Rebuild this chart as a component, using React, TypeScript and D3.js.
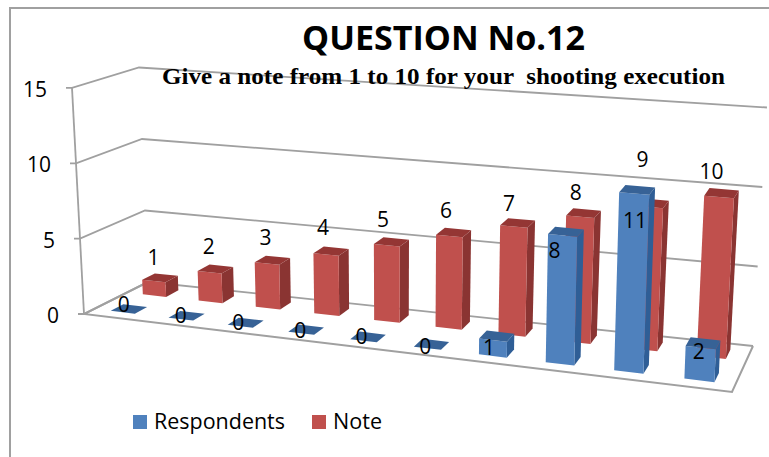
import React from "react";
import * as d3 from "d3";

const categories = ["1", "2", "3", "4", "5", "6", "7", "8", "9", "10"];
const respondents = [0, 0, 0, 0, 0, 0, 1, 8, 11, 2];
const note = [1, 2, 3, 4, 5, 6, 7, 8, 9, 10];
const valueTicks = [0, 5, 10, 15];

const W = 769, H = 457;
const SANS = "'Open Sans', 'Noto Sans', sans-serif";
const BLUE = { front: "#4F81BD", side: "#2F5E96", top: "#376296" };
const RED = { front: "#C0504D", side: "#8A3432", top: "#943634" };
const GRID = "#A0A0A0";

const lerp = (a: number, b: number, t: number) => d3.interpolateNumber(a, b)(t);
const bi = (fl: number, fr: number, bl: number, br: number, u: number, d: number) =>
  lerp(lerp(fl, fr, u), lerp(bl, br, u), d);

// simple 3D projection of the chart box: u along categories, d into depth, v value
const uScale = d3.scaleBand<string>().domain(categories).range([0, 1]);
const persp = 1.13;
const warp = (u: number) => u / (u + persp * (1 - u));
const project = (uRaw: number, d: number, v: number): [number, number] => {
  const u = warp(uRaw);
  const x0 = bi(84, 732, 148, 753, u, d);
  const y0 = bi(314, 392, 282, 346, u, d);
  const unit = bi(15.07, 16.6, 14.3, 15.9, u, d);
  const lean = bi(-0.8, 0.7, -0.6, 0.93, u, d);
  return [x0 + lean * v, y0 - unit * v];
};
const line = d3.line<[number, number]>();
const poly = (pts: [number, number][]) => line(pts) + "Z";

const halfW = 0.021;
const depthHalf = 0.1;

function Bar({ cat, v, dc, c }: { cat: string; v: number; dc: number; c: typeof RED }) {
  const uc = (uScale(cat) as number) + uScale.bandwidth() / 2;
  const [u0, u1] = [uc - halfW, uc + halfW];
  const [d0, d1] = [dc - depthHalf, dc + depthHalf];
  return (
    <g>
      {v > 0 && <path d={poly([project(u1, d0, 0), project(u1, d1, 0), project(u1, d1, v), project(u1, d0, v)])} fill={c.side} />}
      {v > 0 && <path d={poly([project(u0, d0, 0), project(u1, d0, 0), project(u1, d0, v), project(u0, d0, v)])} fill={c.front} />}
      <path d={poly([project(u0, d0, v), project(u1, d0, v), project(u1, d1, v), project(u0, d1, v)])} fill={c.top} />
    </g>
  );
}

// the chart's own label placement differs per bar
const noteLabelShift: [number, number][] = [[6, -4], [5, -7], [4, -7], [2, -8], [1, -7], [1, -6], [-1, -4], [-1, -5], [-3, -29], [-5, -7]];
const blueLabelShift: [number, number][] = [[1, -8], [0, -4], [-2, -4], [-1, -3], [-2, -5], [-2, -2], [-4, 7], [-8, 15], [1, 27], [-2, 3]];

export default function App() {
  const cx = (c: string) => (uScale(c) as number) + uScale.bandwidth() / 2;
  return (
    <svg width={W} height={H} style={{ position: "absolute", left: 0, top: 0, background: "#fff" }}>
      <path d={`M10 ${H}V8H${W}`} fill="none" stroke="#A0A0A0" strokeWidth={2} />
      <text x={443.5} y={50} textAnchor="middle" fontFamily={SANS} fontWeight={700} fontSize={34} textLength={283} lengthAdjust="spacingAndGlyphs" fill="#000">QUESTION No.12</text>

      {valueTicks.map((t) => {
        const [fx, fy] = project(0, 0, t);
        const [bx, by] = project(0, 1, t);
        const [rx, ry] = project(1, 1, t);
        return (
          <g key={t}>
            <path d={line([[fx - 6, fy], [fx, fy], [bx, by], [rx, ry]])!} fill="none" stroke={GRID} strokeWidth={1.8} />
            <text x={fx - 25} y={fy + 9} textAnchor="end" fontFamily={SANS} fontSize={21} fill="#000">{t}</text>
          </g>
        );
      })}
      <path d={line([project(0, 0, 15), project(0, 0, 0)])!} fill="none" stroke={GRID} strokeWidth={1.8} />
      <path d={line([project(0, 1, 0), project(0, 0, 0), project(1, 0, 0), project(1, 1, 0)])!} fill="none" stroke={GRID} strokeWidth={2} />

      {categories.map((c, i) => <Bar key={c} cat={c} v={note[i]} dc={0.77} c={RED} />)}
      {categories.map((c, i) => <Bar key={c} cat={c} v={respondents[i]} dc={0.26} c={BLUE} />)}

      {categories.map((c, i) => {
        const [x, y] = project(cx(c), 0.57, note[i]);
        const [dx, dy] = noteLabelShift[i];
        return <text key={c} x={x + dx} y={y - 15 + dy} textAnchor="middle" fontFamily={SANS} fontSize={21} fill="#000">{note[i]}</text>;
      })}
      {categories.map((c, i) => {
        const [x, y] = project(cx(c), 0.16, respondents[i]);
        const [dx, dy] = blueLabelShift[i];
        return <text key={c} x={x + dx} y={y + dy + 8} textAnchor="middle" fontFamily={SANS} fontSize={21} fill="#000">{respondents[i]}</text>;
      })}

      <rect x={133} y={415} width={14} height={14} fill={BLUE.front} />
      <text x={154} y={429} fontFamily={SANS} fontSize={21} textLength={131} lengthAdjust="spacingAndGlyphs" fill="#000">Respondents</text>
      <rect x={312} y={415} width={14} height={14} fill={RED.front} />
      <text x={333} y={429} fontFamily={SANS} fontSize={21} textLength={49} lengthAdjust="spacingAndGlyphs" fill="#000">Note</text>
      <text x={162} y={84} fontFamily="'Liberation Serif', serif" fontWeight={700} fontSize={23.5} textLength={563} lengthAdjust="spacingAndGlyphs" fill="#000" style={{ whiteSpace: "pre" }}>Give a note from 1 to 10 for your  shooting execution</text>
    </svg>
  );
}
